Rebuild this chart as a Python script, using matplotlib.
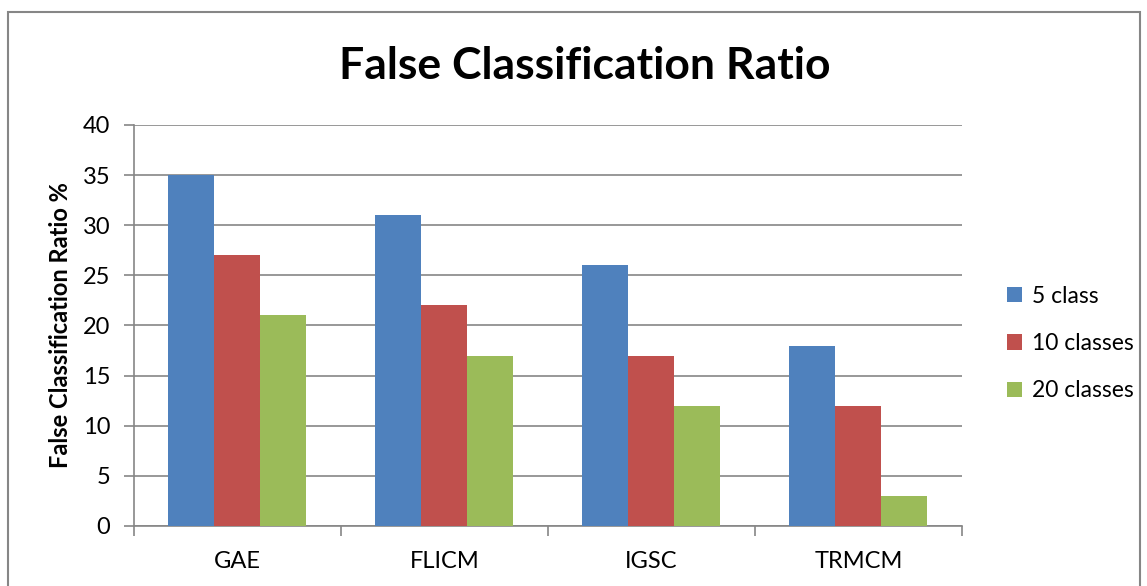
import numpy as np
import matplotlib.pyplot as plt
from matplotlib.patches import Rectangle

plt.rcParams['font.family'] = ['Lato', 'DejaVu Sans']

categories = ['GAE', 'FLICM', 'IGSC', 'TRMCM']
series_names = ['5 class', '10 classes', '20 classes']
class5 = [35, 31, 26, 18]
class10 = [27, 22, 17, 12]
class20 = [21, 17, 12, 3]
colors = ['#4F81BD', '#C0504D', '#9BBB59']

fig = plt.figure(figsize=(11.47, 5.86), dpi=100)
ax = fig.add_axes([0.1168, 0.1024, 0.7219, 0.6843])

x = np.arange(len(categories))
w = 1 / 4.5
for i, (vals, name) in enumerate(zip([class5, class10, class20], series_names)):
    ax.bar(x + (i - 1) * w, vals, width=w, color=colors[i], label=name, zorder=3)

grid_c = '#868686'
ax.set_xlim(-0.5, len(categories) - 0.5)
ax.set_ylim(0, 40)
ax.set_yticks(range(0, 41, 5))
ax.yaxis.grid(True, color=grid_c, linewidth=1.2, zorder=0)
ax.set_xticks(x)
ax.set_xticklabels(categories)
ax.set_xticks(np.arange(-0.5, len(categories)), minor=True)
ax.tick_params(axis='x', which='major', length=0, pad=18, labelsize=17)
ax.tick_params(axis='x', which='minor', length=7, color=grid_c, width=1.2)
ax.tick_params(axis='y', length=7, color=grid_c, width=1.2, labelsize=17, pad=10)
for s in ['top', 'right']:
    ax.spines[s].set_visible(False)
for s in ['left', 'bottom']:
    ax.spines[s].set_color(grid_c)
    ax.spines[s].set_linewidth(1.2)

ax.set_ylabel('False Classification Ratio %', fontsize=17, fontweight='bold', labelpad=8)
fig.text(0.51, 0.887, 'False Classification Ratio', ha='center', va='center',
         fontsize=32, fontweight='bold')

ax.legend(loc='center left', bbox_to_anchor=(1.03, 0.455), frameon=False,
          fontsize=16.5, handlelength=0.65, handleheight=0.65, handletextpad=0.4,
          labelspacing=1.15)

fig.patches.append(Rectangle((8 / 1147, -0.1), (1140 - 8) / 1147, 1.08,
                             transform=fig.transFigure, fill=False,
                             edgecolor='#868686', linewidth=1.5))

fig.savefig('out.png', dpi=100)
